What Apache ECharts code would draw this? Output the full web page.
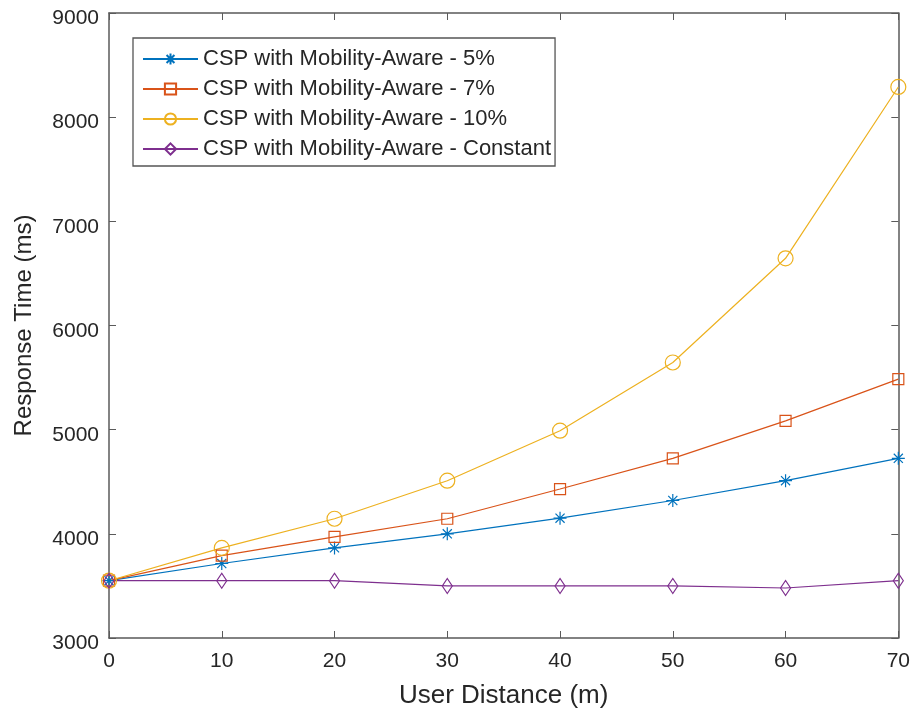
<!DOCTYPE html>
<html>
<head>
<meta charset="utf-8">
<script src="https://cdn.jsdelivr.net/npm/echarts@6/dist/echarts.min.js"></script>
<style>
  html, body { margin: 0; padding: 0; background: #fff; }
  #chart { width: 913px; height: 719px; }
</style>
</head>
<body>
<div id="chart"></div>
<script>
// User distance (m) on the x axis
const distances = [0, 10, 20, 30, 40, 50, 60, 70];

// Response time (ms) for each mobility-aware variant
const rt5 = [3550, 3715, 3865, 4000, 4150, 4320, 4510, 4725];
const rt7 = [3550, 3790, 3970, 4145, 4430, 4725, 5085, 5485];
const rt10 = [3550, 3865, 4145, 4510, 4990, 5645, 6645, 8290];
const rtConst = [3550, 3550, 3550, 3500, 3500, 3500, 3480, 3550];

const seriesNames = [
  'CSP with Mobility-Aware - 5%',
  'CSP with Mobility-Aware - 7%',
  'CSP with Mobility-Aware - 10%',
  'CSP with Mobility-Aware - Constant'
];

const xTicks = [0, 10, 20, 30, 40, 50, 60, 70];
const yTicks = [3000, 4000, 5000, 6000, 7000, 8000, 9000];

const colors = ['#0072BD', '#D95319', '#EDB120', '#7E2F8E'];
const axisColor = '#5a5a5a';
const textColor = '#262626';
const fontFamily = '"Liberation Sans", Arial, Helvetica, sans-serif';

const asterisk = 'path://M0,-6L0,6M-6,0L6,0M-4.2,-4.2L4.2,4.2M-4.2,4.2L4.2,-4.2';

function pairs(ys) {
  return distances.map((x, i) => [x, ys[i]]);
}

function makeSeries(name, ys, color, symbol, size) {
  return {
    name: name,
    type: 'line',
    data: pairs(ys),
    xAxisIndex: 0,
    yAxisIndex: 0,
    symbol: symbol,
    symbolSize: size,
    showAllSymbol: true,
    lineStyle: { color: color, width: 1.2 },
    itemStyle: { color: 'rgba(0,0,0,0)', borderColor: color, borderWidth: 1.2 },
    emphasis: { disabled: true },
    animation: false
  };
}

const chart = echarts.init(document.getElementById('chart'), null, { renderer: 'canvas' });

const baseAxis = {
  axisLine: { show: true, onZero: false, lineStyle: { color: axisColor, width: 1.5 } },
  axisTick: { show: true, inside: true, length: 7, lineStyle: { color: axisColor, width: 1 } },
  splitLine: { show: false }
};

chart.setOption({
  backgroundColor: '#ffffff',
  animation: false,
  grid: { left: 109, right: 12, top: 13, bottom: 81, containLabel: false },
  legend: {
    orient: 'vertical',
    left: 133,
    top: 38,
    data: seriesNames,
    itemWidth: 55,
    itemHeight: 14,
    itemGap: 8,
    padding: [10, 4, 6, 9],
    borderColor: '#555555',
    borderWidth: 1.3,
    backgroundColor: '#ffffff',
    textStyle: { fontFamily: fontFamily, fontSize: 22, lineHeight: 22, color: textColor },
    selectedMode: false
  },
  xAxis: [
    Object.assign({}, baseAxis, {
      type: 'value', min: 0, max: 70, interval: 10, position: 'bottom',
      name: 'User Distance (m)', nameLocation: 'middle', nameGap: 45,
      nameTextStyle: { fontFamily: fontFamily, fontSize: 26, color: textColor },
      axisLabel: { fontFamily: fontFamily, fontSize: 21, color: textColor, margin: 13,
        formatter: v => xTicks.includes(v) ? String(v) : '' }
    }),
    Object.assign({}, baseAxis, {
      type: 'value', min: 0, max: 70, interval: 10, position: 'top',
      axisLabel: { show: false }
    })
  ],
  yAxis: [
    Object.assign({}, baseAxis, {
      type: 'value', min: 3000, max: 9000, interval: 1000, position: 'left',
      name: 'Response Time (ms)', nameLocation: 'middle', nameGap: 73, nameRotate: 90,
      nameTextStyle: { fontFamily: fontFamily, fontSize: 24, color: textColor },
      axisLabel: { fontFamily: fontFamily, fontSize: 21, color: textColor, margin: 10,
        verticalAlign: 'top', lineHeight: 11,
        formatter: v => yTicks.includes(v) ? String(v) : '' }
    }),
    Object.assign({}, baseAxis, {
      type: 'value', min: 3000, max: 9000, interval: 1000, position: 'right',
      axisLabel: { show: false }
    })
  ],
  series: [
    makeSeries(seriesNames[0], rt5, colors[0], asterisk, 13),
    makeSeries(seriesNames[1], rt7, colors[1], 'rect', 11),
    makeSeries(seriesNames[2], rt10, colors[2], 'circle', 15),
    makeSeries(seriesNames[3], rtConst, colors[3], 'diamond', [10, 15])
  ]
});
</script>
</body>
</html>
